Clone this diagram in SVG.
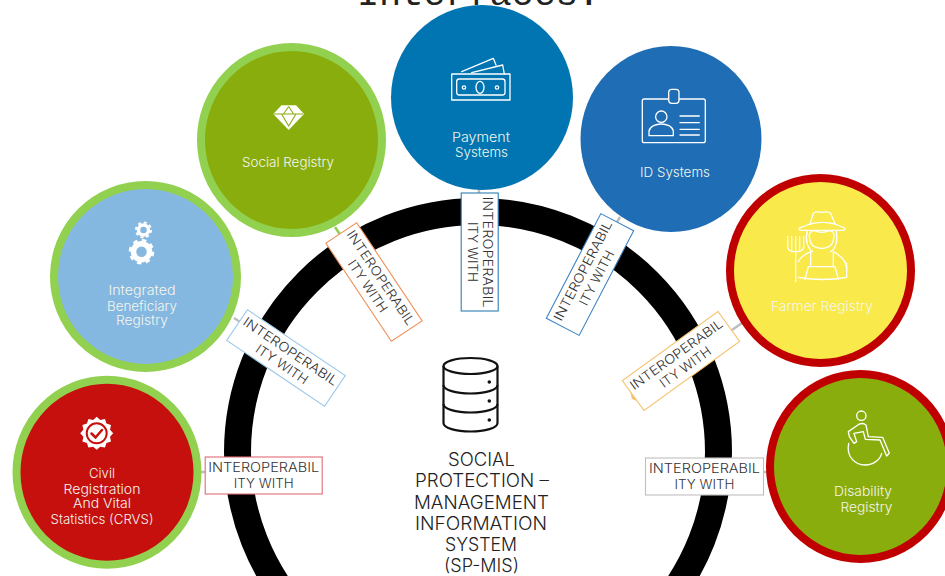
<svg xmlns="http://www.w3.org/2000/svg" width="945" height="576" viewBox="0 0 945 576">
<defs>
<style>
text{font-family:Inter,"Open Sans","Liberation Sans",sans-serif;text-anchor:middle;font-weight:300}
.t{font-size:13px;fill:#f4f6ee}
.c{font-size:18px;fill:#222}
.lb{font-size:13px;fill:#333}
.lr{fill:#fff;stroke-width:1.100}
.bg{stroke:#92D050;stroke-width:8}
.br{stroke:#C00000;stroke-width:8}
.ic{fill:none;stroke:#fff;stroke-width:1.300;stroke-linejoin:round;stroke-linecap:round}
.ic3{fill:none;stroke:#fff;stroke-width:4;stroke-linejoin:round;stroke-linecap:round}
.conn{fill:none;stroke:#bdbdbd;stroke-width:2.500}
</style>
<g id="lbl"><text class="lb" y="-3.500" textLength="111" lengthAdjust="spacingAndGlyphs">INTEROPERABIL</text><text class="lb" y="12" textLength="60" lengthAdjust="spacingAndGlyphs">ITY WITH</text></g>
</defs>
<rect width="945" height="576" fill="#fff"/>
<text x="478.500" y="5" textLength="243" style="font-family:'Liberation Mono',monospace;font-size:37px;fill:#222;font-weight:400">Interfaces:</text>
<circle id="ring" cx="478" cy="452" r="240.500" fill="none" stroke="#000" stroke-width="27"/>
<g id="connectors">
<path class="conn" d="M201 472H206M234 318L241 322.500M479 189V194M620 217L617 222M732 330L742 323M764 472H768"/>
<path class="conn" style="stroke:#92D050" d="M335 227L341 236"/>
<path d="M630 391L637 401L632 399Z" fill="#F5C26B"/>
</g>
<g id="sp-mis">
<g fill="none" stroke="#111" stroke-width="2.200">
<ellipse cx="470.500" cy="366" rx="27" ry="8"/>
<path d="M443.500 366V423C443.500 428 456 431.500 470.500 431.500S497.500 428 497.500 423V366"/>
<path d="M443.500 385C443.500 390 456 393.500 470.500 393.500S497.500 390 497.500 385"/>
<path d="M443.500 404C443.500 409 456 412.500 470.500 412.500S497.500 409 497.500 404"/>
</g>
<circle cx="489.300" cy="382" r="1.800" fill="#111"/><circle cx="489.300" cy="401" r="1.800" fill="#111"/><circle cx="489.300" cy="420" r="1.800" fill="#111"/>
<text class="c" x="481.500" y="466" textLength="67" lengthAdjust="spacingAndGlyphs">SOCIAL</text>
<text class="c" x="482" y="487" textLength="134" lengthAdjust="spacingAndGlyphs">PROTECTION –</text>
<text class="c" x="481.500" y="508.500" textLength="135" lengthAdjust="spacingAndGlyphs">MANAGEMENT</text>
<text class="c" x="481" y="530" textLength="132" lengthAdjust="spacingAndGlyphs">INFORMATION</text>
<text class="c" x="481" y="551" textLength="72" lengthAdjust="spacingAndGlyphs">SYSTEM</text>
<text class="c" x="481.500" y="572" textLength="75" lengthAdjust="spacingAndGlyphs">(SP-MIS)</text>
</g>
<g id="crvs">
<ellipse cx="107" cy="472.300" rx="90.500" ry="92.500" fill="#C5100E" class="bg"/>
<polygon transform="translate(96.700 433.300)" fill="#fff" points="16.500,0 13.330,3.570 14.290,8.250 9.760,9.760 8.250,14.290 3.570,13.330 0,16.500 -3.570,13.330 -8.250,14.290 -9.760,9.760 -14.290,8.250 -13.330,3.570 -16.500,0 -13.330,-3.570 -14.290,-8.250 -9.760,-9.760 -8.250,-14.290 -3.570,-13.330 0,-16.500 3.570,-13.330 8.250,-14.290 9.760,-9.760 14.290,-8.250 13.330,-3.570"/>
<circle cx="96.700" cy="433.300" r="10" fill="#fff" stroke="#C5100E" stroke-width="2"/>
<path d="M91.500 433.500L95.500 437.500L102 430" fill="none" stroke="#C5100E" stroke-width="2.500" stroke-linecap="round"/>
<text class="t" x="102" y="478" textLength="26" lengthAdjust="spacingAndGlyphs">Civil</text>
<text class="t" x="102" y="493.500" textLength="77" lengthAdjust="spacingAndGlyphs">Registration</text>
<text class="t" x="102" y="508" textLength="58" lengthAdjust="spacingAndGlyphs">And Vital</text>
<text class="t" x="102" y="524" textLength="103" lengthAdjust="spacingAndGlyphs">Statistics (CRVS)</text>
</g>
<g id="integrated">
<circle cx="145.500" cy="276.500" r="91.500" fill="#85B8E0" class="bg"/>
<circle cx="143.500" cy="230" r="5" fill="none" stroke="#fff" stroke-width="3.500"/>
<circle cx="143.500" cy="230" r="7.500" fill="none" stroke="#fff" stroke-width="2" stroke-dasharray="3 2.900"/>
<circle cx="141.500" cy="251.700" r="8" fill="none" stroke="#fff" stroke-width="5.500"/>
<circle cx="141.500" cy="251.700" r="11.500" fill="none" stroke="#fff" stroke-width="2.500" stroke-dasharray="4.500 4.530"/>
<text class="t" x="142" y="295" textLength="67" lengthAdjust="spacingAndGlyphs">Integrated</text>
<text class="t" x="142" y="310.500" textLength="70" lengthAdjust="spacingAndGlyphs">Beneficiary</text>
<text class="t" x="142" y="325" textLength="52" lengthAdjust="spacingAndGlyphs">Registry</text>
</g>
<g id="social">
<ellipse cx="291.500" cy="140" rx="90.500" ry="93" fill="#8AAD0E" class="bg"/>
<path d="M273.300 114L281.500 105.300H296L304 114L288.700 130Z" fill="#fff"/>
<path d="M274 114H303M281.500 114L288.700 126L296 114M288.700 106.500L283.500 114M288.700 106.500L293.500 114" fill="none" stroke="#8AAD0E" stroke-width="1.100"/>
<text class="t" x="288" y="167" textLength="92" lengthAdjust="spacingAndGlyphs">Social Registry</text>
</g>
<g id="payment">
<ellipse cx="482" cy="97.500" rx="91" ry="92.500" fill="#0075B1"/>
<g class="ic">
<rect x="451.700" y="74" width="58.300" height="26"/>
<rect x="456.700" y="79" width="48.300" height="16" rx="2.500"/>
<ellipse cx="480" cy="87.300" rx="4" ry="6"/>
<circle cx="464" cy="87.500" r="1.700"/><circle cx="497" cy="87.500" r="1.700"/>
<path d="M461.700 71.700L493.300 58.300L496 65M471.700 72.700L502.700 65L504.300 74"/>
</g>
<text class="t" x="481" y="142" textLength="58" lengthAdjust="spacingAndGlyphs">Payment</text>
<text class="t" x="481.500" y="157" textLength="53" lengthAdjust="spacingAndGlyphs">Systems</text>
</g>
<g id="id-systems">
<ellipse cx="671" cy="139" rx="90.500" ry="93" fill="#1E6DB5"/>
<g class="ic">
<rect x="642.300" y="99" width="63" height="43.700" rx="2"/>
<rect x="668.700" y="89.300" width="10.300" height="14" rx="3" fill="#1E6DB5"/>
<circle cx="661.300" cy="116.700" r="5.700"/>
<path d="M649 135.700V131C650 126 656 124 661.300 124S672.500 126 673.300 131V135.700Z"/>
<path d="M680 116H699.300M680 122.700H699.300M680 129.300H699.300M680 135H699.300"/>
</g>
<text class="t" x="675" y="177" textLength="70" lengthAdjust="spacingAndGlyphs">ID Systems</text>
</g>
<g id="farmer">
<ellipse cx="820.500" cy="270.500" rx="90.500" ry="92.500" fill="#F9E94A" class="br"/>
<g class="ic3" transform="translate(770 200) scale(.3333)">
<path d="M120 72L130 40Q135 33 155 37Q175 33 182 40L195 72"/>
<path d="M120 72Q105 78 88 84Q85 91 95 91H218Q228 90 224 84Q210 78 195 72Q155 62 120 72Z"/>
<path d="M118 105C118 135 135 145 155 145S192 135 192 105C192 98 185 92 178 92C165 98 150 100 132 92C125 92 118 98 118 105Z"/>
<path d="M112 92C105 120 112 145 128 155M198 92C205 120 198 145 182 155"/>
<path d="M53 110V140Q53 155 77 155Q101 155 101 140V110M65 110V148M89 110V148M77 110V245"/>
<path d="M85 185Q95 165 122 155V200M230 205Q228 175 190 155V200"/>
<path d="M105 238L115 200H195L205 238M85 232Q155 245 230 232V190"/>
</g>
<text class="t" x="822" y="311" textLength="102" lengthAdjust="spacingAndGlyphs">Farmer Registry</text>
</g>
<g id="disability">
<ellipse cx="860.500" cy="466.500" rx="90.500" ry="92.500" fill="#8AAD0E" class="br"/>
<g class="ic3" transform="translate(830 400) scale(.3333)">
<circle cx="94" cy="47" r="14"/>
<path d="M55 95L58 110L72 130L80 125L72 100L100 95L106 118L150 120L170 168L178 160L158 112L115 110L108 75Q100 68 88 72Z"/>
<path d="M56 130C48 170 75 195 105 195C130 195 150 180 155 160"/>
</g>
<text class="t" x="863" y="496" textLength="58" lengthAdjust="spacingAndGlyphs">Disability</text>
<text class="t" x="866.500" y="511.500" textLength="52" lengthAdjust="spacingAndGlyphs">Registry</text>
</g>
<g id="label-crvs" transform="translate(263.700 475.500)"><rect class="lr" stroke="#E06C75" x="-58.500" y="-18.500" width="117" height="37"/><use href="#lbl"/></g>
<g id="label-integrated" transform="translate(286 358) rotate(34)"><rect class="lr" stroke="#9CC8E8" x="-59" y="-18.500" width="118" height="37"/><use href="#lbl"/></g>
<g id="label-social" transform="translate(374 282) rotate(56.300)"><rect class="lr" stroke="#F0905A" x="-59" y="-18.500" width="118" height="37"/><use href="#lbl"/></g>
<g id="label-payment" transform="translate(479.700 252) rotate(90)"><rect class="lr" stroke="#2F7FB5" x="-59" y="-18.500" width="118" height="37"/><use href="#lbl"/></g>
<g id="label-id" transform="translate(590 274.500) rotate(-62.500)"><rect class="lr" stroke="#3B82C4" x="-59" y="-18.500" width="118" height="37"/><use href="#lbl"/></g>
<g id="label-farmer" transform="translate(681 361) rotate(-35.800)"><rect class="lr" stroke="#F5C26B" x="-59" y="-18.500" width="118" height="37"/><use href="#lbl"/></g>
<g id="label-disability" transform="translate(704.500 476.500)"><rect class="lr" stroke="#BFBFBF" x="-59" y="-18.500" width="118" height="37"/><use href="#lbl"/></g>
</svg>
